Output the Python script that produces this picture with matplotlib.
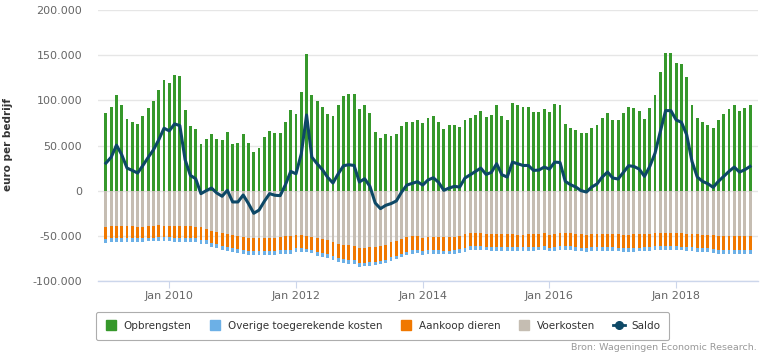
import matplotlib

matplotlib.use("Agg")
import matplotlib.pyplot as plt
import numpy as np
from matplotlib.lines import Line2D
from matplotlib.ticker import FuncFormatter

# Monthly values Jan 2009 .. Mar 2019, in thousands of euro per farm
opbrengsten = [
    86.0, 92.6, 105.9, 94.8, 79.4, 76.1, 73.9, 82.7, 91.5, 99.3, 111.4, 122.4,
    119.5, 127.9, 126.8, 89.3, 71.7, 68.4, 51.8, 57.3, 62.9, 57.3, 56.2, 65.1,
    51.8, 52.9, 62.9, 52.9, 43.0, 47.4, 59.9, 66.2, 63.6, 64.0, 76.1, 89.3,
    84.9, 109.2, 151.1, 105.9, 99.3, 92.6, 84.9, 82.7, 94.8, 104.8, 107.0, 107.0,
    90.4, 94.8, 86.0, 65.1, 58.4, 62.9, 60.7, 62.9, 71.7, 76.1, 76.1, 78.3,
    75.0, 80.5, 82.7, 76.1, 68.4, 72.8, 72.8, 70.6, 78.3, 80.5, 83.8, 88.2,
    81.6, 83.8, 94.8, 82.7, 78.3, 97.0, 94.8, 92.6, 92.6, 87.1, 87.1, 90.4,
    87.1, 95.9, 94.8, 73.9, 69.5, 67.3, 64.0, 64.0, 69.5, 72.8, 80.5, 86.0,
    78.3, 78.3, 86.0, 92.6, 91.5, 88.2, 79.4, 91.5, 105.9, 131.2, 152.6, 152.6,
    141.2, 140.1, 125.7, 94.8, 80.5, 76.1, 72.8, 69.5, 78.3, 84.9, 90.4, 94.8,
    88.2, 91.5, 94.8,
]
voerkosten = [
    40.4, 39.3, 39.3, 39.3, 39.3, 39.3, 40.4, 40.4, 39.3, 39.3, 38.2, 39.3,
    39.3, 39.3, 39.3, 39.3, 39.3, 40.4, 40.4, 42.6, 44.8, 45.9, 47.3, 48.1,
    49.2, 50.3, 51.4, 52.5, 52.5, 52.5, 52.5, 52.5, 52.5, 51.4, 50.6, 50.3,
    49.5, 49.5, 50.3, 51.4, 52.5, 53.9, 55.0, 57.3, 59.5, 60.6, 60.6, 61.7,
    63.9, 63.9, 62.8, 62.8, 61.7, 60.6, 57.3, 56.1, 53.9, 51.7, 50.6, 50.6,
    52.5, 51.7, 51.7, 51.7, 51.7, 51.7, 51.7, 50.6, 48.4, 47.3, 47.3, 47.3,
    48.4, 48.4, 48.4, 48.4, 48.4, 48.4, 49.5, 49.5, 48.4, 48.4, 48.4, 47.3,
    49.5, 48.4, 47.3, 47.3, 47.3, 48.4, 48.4, 49.5, 48.4, 48.4, 48.4, 48.4,
    48.4, 48.4, 49.5, 49.5, 48.4, 48.4, 48.4, 48.4, 47.3, 47.3, 47.3, 47.3,
    47.3, 47.3, 48.4, 48.4, 48.4, 49.5, 49.5, 49.5, 50.6, 50.6, 50.6, 50.6,
    50.6, 50.6, 50.6,
]
aankoop_dieren = [
    12.8, 13.2, 13.2, 13.2, 13.2, 13.2, 12.1, 12.1, 13.2, 12.8, 13.2, 12.1,
    12.1, 13.2, 13.2, 13.2, 13.2, 12.1, 13.9, 12.1, 13.2, 13.6, 14.3, 14.3,
    14.7, 13.9, 14.3, 14.3, 14.7, 14.7, 14.7, 14.3, 14.3, 14.7, 15.0, 15.4,
    14.3, 14.3, 14.3, 14.3, 15.0, 15.4, 15.0, 15.0, 15.0, 15.4, 16.5, 15.4,
    16.5, 16.5, 16.1, 15.8, 16.1, 16.5, 16.5, 16.1, 16.5, 16.1, 15.4, 15.4,
    14.3, 14.3, 14.3, 14.3, 15.4, 15.4, 14.3, 14.3, 14.7, 14.3, 14.3, 14.3,
    14.3, 14.3, 14.3, 14.3, 14.3, 14.3, 13.2, 13.2, 14.3, 14.3, 14.3, 14.3,
    13.9, 14.3, 14.3, 14.3, 14.3, 14.3, 15.4, 14.3, 14.3, 14.3, 14.3, 14.3,
    14.3, 15.4, 14.3, 14.3, 15.4, 15.4, 14.3, 14.3, 14.3, 14.3, 14.3, 14.3,
    14.3, 15.4, 14.3, 14.3, 15.4, 14.3, 14.3, 15.4, 15.4, 15.4, 15.4, 15.4,
    15.4, 15.4, 15.4,
]
overige_kosten = [
    4.8, 4.4, 4.4, 4.4, 4.4, 4.4, 4.4, 4.4, 3.7, 3.7, 4.4, 4.4,
    4.4, 4.4, 4.4, 4.4, 4.4, 4.4, 4.4, 4.4, 4.4, 4.4, 4.4, 4.4,
    4.4, 4.4, 4.8, 4.4, 4.4, 4.4, 4.4, 4.4, 4.4, 4.4, 4.8, 4.4,
    4.4, 4.0, 3.3, 3.3, 4.4, 4.4, 4.4, 4.4, 4.4, 4.4, 4.4, 4.4,
    4.0, 3.3, 4.4, 3.7, 3.7, 3.3, 4.0, 3.7, 3.3, 3.7, 4.4, 3.3,
    4.8, 4.4, 4.4, 4.4, 3.3, 3.3, 4.4, 4.4, 4.8, 4.4, 3.7, 3.7,
    3.3, 4.4, 4.4, 4.4, 4.4, 4.4, 4.4, 4.4, 4.4, 4.4, 3.3, 4.4,
    3.7, 4.4, 4.4, 4.4, 4.4, 4.4, 3.3, 4.4, 4.4, 4.4, 4.4, 4.4,
    4.4, 3.3, 4.4, 4.4, 4.4, 3.3, 4.4, 4.4, 4.4, 4.4, 4.4, 4.4,
    4.4, 3.3, 4.4, 4.4, 4.4, 4.4, 4.4, 4.4, 4.4, 4.4, 4.4, 4.4,
    4.4, 4.4, 4.4,
]
saldo = [
    30.5, 37.1, 50.4, 39.7, 25.0, 22.4, 19.5, 27.9, 36.8, 45.2, 56.2, 69.1,
    66.2, 73.9, 72.0, 34.2, 16.9, 13.2, -3.3, 0.0, 2.9, -2.6, -6.2, 0.4,
    -12.5, -12.5, -4.8, -14.3, -25.0, -21.5, -11.8, -3.3, -5.1, -5.5, 6.6, 21.3,
    18.7, 40.8, 83.8, 37.1, 29.8, 23.2, 14.7, 8.5, 18.7, 27.6, 28.7, 27.9,
    9.6, 13.2, 4.8, -13.6, -19.9, -16.2, -14.3, -11.4, -1.5, 6.2, 8.1, 9.9,
    6.2, 11.8, 14.3, 9.2, 0.4, 2.9, 4.8, 4.0, 14.0, 17.6, 21.3, 25.0,
    18.0, 20.2, 29.8, 17.6, 15.1, 31.6, 29.8, 27.9, 27.9, 22.4, 22.8, 26.1,
    23.9, 31.6, 31.2, 10.3, 6.6, 4.0, 0.0, -1.5, 4.0, 7.4, 15.1, 20.6,
    14.0, 12.9, 20.2, 27.6, 26.8, 23.9, 15.8, 26.8, 41.5, 65.4, 88.6, 88.6,
    78.3, 75.7, 61.8, 32.3, 15.1, 10.3, 7.7, 3.7, 10.3, 15.8, 21.3, 26.1,
    20.6, 23.2, 26.8,
]

x_ticks = [12, 36, 60, 84, 108]
x_labels = ["Jan 2010", "Jan 2012", "Jan 2014", "Jan 2016", "Jan 2018"]
y_ticks = [-100000, -50000, 0, 50000, 100000, 150000, 200000]

c_opbr = "#36982b"
c_overig = "#6cb0e6"
c_aankoop = "#f07800"
c_voer = "#c5bdb2"
c_saldo = "#0d4866"

x = np.arange(len(opbrengsten))
opbr = np.array(opbrengsten) * 1000
voer = -np.array(voerkosten) * 1000
aank = -np.array(aankoop_dieren) * 1000
over = -np.array(overige_kosten) * 1000
sal = np.array(saldo) * 1000

fig = plt.figure(figsize=(7.62, 3.56), dpi=100)
ax = fig.add_axes([98 / 762, 75 / 356, 660 / 762, 271 / 356])

w = 0.55
ax.bar(x, opbr, width=w, color=c_opbr, zorder=2)
ax.bar(x, voer, width=w, color=c_voer, zorder=2)
ax.bar(x, aank, width=w, bottom=voer, color=c_aankoop, zorder=2)
ax.bar(x, over, width=w, bottom=voer + aank, color=c_overig, zorder=2)
ax.plot(x, sal, color=c_saldo, lw=2.2, zorder=3, solid_joinstyle="round")

ax.set_xlim(-1.5, len(x) + 0.5)
ax.set_ylim(-100000, 200000)
ax.set_yticks(y_ticks)
ax.yaxis.set_major_formatter(
    FuncFormatter(lambda v, p: f"{int(v):,}".replace(",", "."))
)
ax.set_xticks(x_ticks)
ax.set_xticklabels(x_labels)

ax.grid(axis="y", color="#e6e6e6", lw=1, zorder=0)
for s in ["top", "right", "left"]:
    ax.spines[s].set_visible(False)
ax.spines["bottom"].set_color("#ccd6eb")
ax.spines["bottom"].set_linewidth(1)
ax.tick_params(axis="y", length=0, pad=11.5, labelsize=8, labelcolor="#666666")
ax.tick_params(axis="x", length=5, color="#ccd6eb", pad=2.5, labelsize=8,
               labelcolor="#666666")

fig.text(8 / 762, 1 - 145 / 356, "euro per bedrijf", rotation=90, ha="center",
         va="center", fontsize=7.5, fontweight="bold", color="#333333")

handles = [
    Line2D([], [], marker="s", ls="none", color=c_opbr, markersize=7.5),
    Line2D([], [], marker="s", ls="none", color=c_overig, markersize=7.5),
    Line2D([], [], marker="s", ls="none", color=c_aankoop, markersize=7.5),
    Line2D([], [], marker="s", ls="none", color=c_voer, markersize=7.5),
    Line2D([], [], marker="o", color=c_saldo, lw=2, markersize=5.5),
]
labels = ["Opbrengsten", "Overige toegerekende kosten", "Aankoop dieren",
          "Voerkosten", "Saldo"]
leg = fig.legend(handles, labels, ncol=5, loc="center",
                 bbox_to_anchor=(0.502, 30 / 356), fontsize=7.5,
                 frameon=True, fancybox=True, handlelength=1.2,
                 handletextpad=0.6, columnspacing=1.7, borderpad=0.85)
leg.get_frame().set_edgecolor("#999999")
leg.get_frame().set_linewidth(0.8)
for t in leg.get_texts():
    t.set_color("#333333")

fig.text(757 / 762, 9 / 356, "Bron: Wageningen Economic Research.", ha="right",
         va="center", fontsize=6.8, color="#999999")

fig.savefig("out.png", dpi=100)
